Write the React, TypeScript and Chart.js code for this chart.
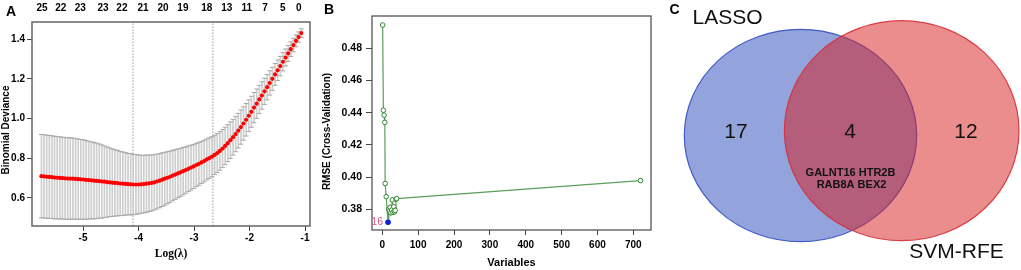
import React, { useEffect, useRef } from "react";
import { Chart, registerables } from "chart.js";

Chart.register(...registerables);

const SANS = "'Liberation Sans', Arial, Helvetica, sans-serif";
const SERIF = "'Liberation Serif', 'Times New Roman', serif";

// ---------------- Panel A: LASSO cross-validation ----------------
const logLambda = [
  -5.75, -5.703, -5.655, -5.608, -5.561, -5.514, -5.466, -5.419, -5.372, -5.324,
  -5.277, -5.23, -5.182, -5.135, -5.088, -5.041, -4.993, -4.946, -4.899, -4.851,
  -4.804, -4.757, -4.709, -4.662, -4.615, -4.568, -4.52, -4.473, -4.426, -4.378,
  -4.331, -4.284, -4.236, -4.189, -4.142, -4.095, -4.047, -4.0, -3.953, -3.905,
  -3.858, -3.811, -3.763, -3.716, -3.669, -3.622, -3.574, -3.527, -3.48, -3.432,
  -3.385, -3.338, -3.29, -3.243, -3.196, -3.149, -3.101, -3.054, -3.007, -2.959,
  -2.912, -2.865, -2.817, -2.77, -2.723, -2.676, -2.628, -2.581, -2.534, -2.486,
  -2.439, -2.392, -2.344, -2.297, -2.25, -2.203, -2.155, -2.108, -2.061, -2.013,
  -1.966, -1.919, -1.871, -1.824, -1.777, -1.73, -1.682, -1.635, -1.588, -1.54,
  -1.493, -1.446, -1.398, -1.351, -1.304, -1.257, -1.209, -1.162, -1.115, -1.067,
];
const cvMean = [
  0.71, 0.709, 0.707, 0.706, 0.705, 0.703, 0.702, 0.701, 0.7, 0.699,
  0.698, 0.698, 0.697, 0.696, 0.695, 0.694, 0.693, 0.691, 0.69, 0.689,
  0.687, 0.686, 0.685, 0.683, 0.682, 0.68, 0.679, 0.677, 0.676, 0.675,
  0.673, 0.672, 0.671, 0.67, 0.669, 0.668, 0.668, 0.668, 0.669, 0.67,
  0.672, 0.674, 0.676, 0.679, 0.683, 0.687, 0.692, 0.697, 0.702, 0.707,
  0.713, 0.718, 0.724, 0.729, 0.735, 0.741, 0.747, 0.753, 0.759, 0.766,
  0.772, 0.779, 0.786, 0.794, 0.801, 0.808, 0.817, 0.826, 0.837, 0.849,
  0.862, 0.876, 0.891, 0.906, 0.922, 0.939, 0.957, 0.975, 0.994, 1.014,
  1.034, 1.055, 1.075, 1.096, 1.116, 1.137, 1.158, 1.179, 1.2, 1.222,
  1.243, 1.264, 1.286, 1.307, 1.328, 1.349, 1.37, 1.391, 1.41, 1.43,
];
const cvSd = [
  0.21, 0.21, 0.209, 0.209, 0.208, 0.208, 0.207, 0.207, 0.206, 0.206,
  0.205, 0.205, 0.204, 0.203, 0.202, 0.201, 0.2, 0.198, 0.196, 0.194,
  0.192, 0.19, 0.187, 0.184, 0.18, 0.177, 0.173, 0.17, 0.167, 0.165,
  0.162, 0.16, 0.157, 0.155, 0.154, 0.152, 0.15, 0.148, 0.146, 0.145,
  0.144, 0.142, 0.141, 0.139, 0.138, 0.136, 0.135, 0.133, 0.131, 0.129,
  0.127, 0.125, 0.123, 0.121, 0.119, 0.117, 0.115, 0.113, 0.111, 0.109,
  0.108, 0.106, 0.105, 0.103, 0.102, 0.101, 0.099, 0.098, 0.097, 0.096,
  0.094, 0.093, 0.092, 0.09, 0.089, 0.087, 0.086, 0.084, 0.082, 0.08,
  0.078, 0.076, 0.074, 0.071, 0.069, 0.066, 0.064, 0.061, 0.058, 0.055,
  0.052, 0.049, 0.046, 0.043, 0.04, 0.037, 0.034, 0.03, 0.026, 0.022,
];
const lambdaMinLog = -4.1;
const lambda1seLog = -2.66;
const topAxisPositions = [
  -5.74, -5.4, -5.05, -4.64, -4.3, -3.92, -3.56, -3.2, -2.77, -2.41, -2.05,
  -1.72, -1.4, -1.11,
];
const topAxisLabels = [
  "25", "22", "23", "23", "22", "21", "20", "19", "18", "13", "11", "7", "5", "0",
];
const xTicksA = [-5, -4, -3, -2, -1];
const yTicksA = [0.6, 0.8, 1.0, 1.2, 1.4];
const A_X_RANGE = [-5.92, -0.91];
const A_Y_RANGE = [0.459, 1.486];

// ---------------- Panel B: SVM-RFE ----------------
const rfeVariables = [1, 3, 5, 7, 8, 11, 16, 18, 20, 22, 24, 26, 28, 30, 32, 34, 36, 38, 40, 720];
const rfeRmse = [
  0.4945, 0.4415, 0.4385, 0.434, 0.396, 0.3878, 0.3719, 0.38, 0.3788, 0.3812,
  0.3778, 0.3795, 0.3858, 0.3781, 0.3816, 0.3785, 0.3793, 0.3862, 0.3866, 0.3978,
];
const bestVariables = 16;
const bestRmse = 0.3719;
const xTicksB = [0, 100, 200, 300, 400, 500, 600, 700];
const yTicksB = [0.38, 0.4, 0.42, 0.44, 0.46, 0.48];
const B_X_RANGE = [-28.7, 749.3];
const B_Y_RANGE = [0.3671, 0.5001];

// ---------------- Panel C: Venn ----------------
const vennSetNames = ["LASSO", "SVM-RFE"];
const vennCounts = [17, 4, 12];
const sharedGenes = ["GALNT16", "HTR2B", "RAB8A", "BEX2"];

type TextItem = {
  text: string;
  x: number;
  y: number;
  font: string;
  color?: string;
  align?: CanvasTextAlign;
  rotate?: number;
};

function makeTextPlugin(id: string, getItems: (chart: any) => TextItem[]) {
  return {
    id,
    afterDraw(chart: any) {
      const ctx = chart.ctx as CanvasRenderingContext2D;
      for (const it of getItems(chart)) {
        ctx.save();
        ctx.font = it.font;
        ctx.fillStyle = it.color || "#000";
        ctx.textAlign = it.align || "center";
        ctx.textBaseline = "middle";
        ctx.translate(it.x, it.y);
        if (it.rotate) ctx.rotate(it.rotate);
        ctx.fillText(it.text, 0, 0);
        ctx.restore();
      }
    },
  };
}

function makeBoxPlugin(color: string, width: number) {
  return {
    id: "box",
    afterDatasetsDraw(chart: any) {
      const { ctx, chartArea } = chart;
      ctx.save();
      ctx.strokeStyle = color;
      ctx.lineWidth = width;
      ctx.strokeRect(
        chartArea.left,
        chartArea.top,
        chartArea.right - chartArea.left,
        chartArea.bottom - chartArea.top
      );
      ctx.restore();
    },
  };
}

function PanelA() {
  const ref = useRef<HTMLCanvasElement>(null);
  useEffect(() => {
    const tickFont = { family: SANS, size: 10, weight: "bold" as const };
    const chart = new Chart(ref.current!, {
      type: "scatter",
      data: {
        datasets: [
          {
            label: "mean",
            data: logLambda.map((x, i) => ({ x, y: cvMean[i] })),
            pointRadius: 2.1,
            pointBackgroundColor: "#ff0000",
            pointBorderWidth: 0,
            showLine: false,
          },
          {
            label: "upper",
            data: logLambda.map((x, i) => ({ x, y: cvMean[i] + cvSd[i] })),
            pointStyle: "line",
            pointRadius: 2.4,
            pointBorderColor: "#a9a9a9",
            pointBorderWidth: 1,
            showLine: false,
          },
          {
            label: "lower",
            data: logLambda.map((x, i) => ({ x, y: cvMean[i] - cvSd[i] })),
            pointStyle: "line",
            pointRadius: 2.4,
            pointBorderColor: "#a9a9a9",
            pointBorderWidth: 1,
            showLine: false,
          },
          {
            type: "bar",
            label: "bars",
            data: logLambda.map((x, i) => ({ x, y: [cvMean[i] - cvSd[i], cvMean[i] + cvSd[i]] })) as any,
            backgroundColor: "#cdcdcd",
            borderWidth: 0,
            barThickness: 1,
            grouped: false,
          } as any,
          {
            label: "lambda.min",
            data: [
              { x: lambdaMinLog, y: A_Y_RANGE[0] },
              { x: lambdaMinLog, y: A_Y_RANGE[1] },
            ],
            showLine: true,
            borderColor: "#9a9a9a",
            borderWidth: 1,
            borderDash: [1.5, 1.5],
            pointRadius: 0,
          },
          {
            label: "lambda.1se",
            data: [
              { x: lambda1seLog, y: A_Y_RANGE[0] },
              { x: lambda1seLog, y: A_Y_RANGE[1] },
            ],
            showLine: true,
            borderColor: "#9a9a9a",
            borderWidth: 1,
            borderDash: [1.5, 1.5],
            pointRadius: 0,
          },
        ],
      },
      options: {
        responsive: false,
        animation: false,
        devicePixelRatio: 1,
        layout: { padding: { left: 0, right: 20, top: 0, bottom: 0 } },
        plugins: { legend: { display: false }, tooltip: { enabled: false } },
        scales: {
          x: {
            type: "linear",
            position: "bottom",
            min: A_X_RANGE[0],
            max: A_X_RANGE[1],
            offset: false,
            afterBuildTicks: (s: any) => {
              s.ticks = xTicksA.map((v) => ({ value: v }));
            },
            ticks: {
              font: tickFont,
              color: "#000",
              padding: 1,
              maxRotation: 0,
              autoSkip: false,
              callback: (v: any) => String(v),
            },
            grid: { drawOnChartArea: false, drawTicks: true, tickLength: 5, color: "#444", offset: false },
            border: { display: false },
            title: {
              display: true,
              text: "Log(λ)",
              font: { family: SERIF, size: 11.5, weight: "bold" },
              color: "#000",
              padding: { top: 0, bottom: 9 },
            },
            afterFit: (s: any) => {
              s.height = 44;
            },
          },
          x2: {
            type: "linear",
            position: "top",
            min: A_X_RANGE[0],
            max: A_X_RANGE[1],
            offset: false,
            afterBuildTicks: (s: any) => {
              s.ticks = topAxisPositions.map((v) => ({ value: v }));
            },
            ticks: {
              font: tickFont,
              color: "#000",
              padding: 7.5,
              maxRotation: 0,
              autoSkip: false,
              callback: (_v: any, i: number) => topAxisLabels[i],
            },
            grid: { display: false, drawTicks: false },
            border: { display: false },
            afterFit: (s: any) => {
              s.height = 22;
            },
          },
          y: {
            type: "linear",
            min: A_Y_RANGE[0],
            max: A_Y_RANGE[1],
            beginAtZero: false,
            afterBuildTicks: (s: any) => {
              s.ticks = yTicksA.map((v) => ({ value: v }));
            },
            ticks: {
              font: tickFont,
              color: "#000",
              padding: 2,
              callback: (v: any) => Number(v).toFixed(1),
            },
            grid: { drawOnChartArea: false, tickLength: 5, color: "#444" },
            border: { display: false },
            afterFit: (s: any) => {
              s.width = 32;
            },
          },
        },
      } as any,
      plugins: [
        makeBoxPlugin("#666", 1.5),
        makeTextPlugin("textsA", () => [
          { text: "A", x: 11, y: 12.5, font: `bold 14px ${SANS}` },
          {
            text: "Binomial Deviance",
            x: 6.5,
            y: 130,
            font: `bold 10px ${SANS}`,
            rotate: -Math.PI / 2,
          },
        ]),
      ],
    });
    return () => chart.destroy();
  }, []);
  return (
    <canvas
      ref={ref}
      width={330}
      height={270}
      style={{ position: "absolute", left: 0, top: 0, width: 330, height: 270 }}
    />
  );
}

function PanelB() {
  const ref = useRef<HTMLCanvasElement>(null);
  useEffect(() => {
    const tickFont = { family: SANS, size: 10.5, weight: "bold" as const };
    const chart = new Chart(ref.current!, {
      type: "scatter",
      data: {
        datasets: [
          {
            label: "best",
            data: [{ x: bestVariables, y: bestRmse }],
            pointRadius: 2.7,
            pointBackgroundColor: "#1020e0",
            pointBorderColor: "#1020e0",
            pointBorderWidth: 0,
            showLine: false,
          },
          {
            label: "rmse",
            data: rfeVariables.map((x, i) => ({ x, y: rfeRmse[i] })),
            showLine: true,
            borderColor: "#5c9e5c",
            borderWidth: 1.2,
            pointRadius: 2.3,
            pointBorderColor: "#2f8a2f",
            pointBackgroundColor: "#ffffff",
            pointBorderWidth: 1,
          },
        ],
      },
      options: {
        responsive: false,
        animation: false,
        devicePixelRatio: 1,
        layout: { padding: { left: 0, right: 15, top: 16, bottom: 0 } },
        plugins: { legend: { display: false }, tooltip: { enabled: false } },
        scales: {
          x: {
            type: "linear",
            min: B_X_RANGE[0],
            max: B_X_RANGE[1],
            afterBuildTicks: (s: any) => {
              s.ticks = xTicksB.map((v) => ({ value: v }));
            },
            ticks: {
              font: { family: SANS, size: 10, weight: "bold" },
              color: "#000",
              padding: 4,
              maxRotation: 0,
              autoSkip: false,
              callback: (v: any) => String(v),
            },
            grid: { drawOnChartArea: false, tickLength: 5, color: "#444" },
            border: { display: false },
            title: {
              display: true,
              text: "Variables",
              font: { family: SANS, size: 11, weight: "bold" },
              color: "#000",
              padding: { top: 0, bottom: 0.5 },
            },
            afterFit: (s: any) => {
              s.height = 40;
            },
          },
          y: {
            type: "linear",
            min: B_Y_RANGE[0],
            max: B_Y_RANGE[1],
            afterBuildTicks: (s: any) => {
              s.ticks = yTicksB.map((v) => ({ value: v }));
            },
            ticks: {
              font: tickFont,
              color: "#000",
              padding: 4,
              callback: (v: any) => Number(v).toFixed(2),
            },
            grid: { drawOnChartArea: false, tickLength: 6, color: "#444" },
            border: { display: false },
            afterFit: (s: any) => {
              s.width = 56;
            },
          },
        },
      } as any,
      plugins: [
        makeBoxPlugin("#555", 1.3),
        makeTextPlugin("textsB", (c: any) => [
          { text: "B", x: 13, y: 10, font: `bold 14px ${SANS}` },
          {
            text: "RMSE (Cross-Validation)",
            x: 11,
            y: 131.5,
            font: `bold 10px ${SANS}`,
            rotate: -Math.PI / 2,
          },
          {
            text: String(bestVariables),
            x: c.scales.x.getPixelForValue(bestVariables) - 5,
            y: c.scales.y.getPixelForValue(bestRmse),
            font: `10.5px ${SANS}`,
            color: "#e0587c",
            align: "right",
          },
        ]),
      ],
    });
    return () => chart.destroy();
  }, []);
  return (
    <canvas
      ref={ref}
      width={350}
      height={270}
      style={{ position: "absolute", left: 316, top: 0, width: 350, height: 270 }}
    />
  );
}

// Venn geometry (layout, in panel-C units that map 1:1 onto the canvas)
const VENN_LAYOUT = [
  { cx: 132.5, cy: 135.5, rx: 116.2, ry: 106.2, fill: "rgba(30,62,182,0.48)", stroke: "rgba(60,85,195,0.95)" },
  { cx: 233.7, cy: 130.7, rx: 117.3, ry: 110, fill: "rgba(215,25,28,0.5)", stroke: "rgba(215,45,55,0.9)" },
];

function PanelC() {
  const ref = useRef<HTMLCanvasElement>(null);
  useEffect(() => {
    const ellipsePlugin = {
      id: "venn",
      beforeDatasetsDraw(chart: any) {
        const { ctx, scales } = chart;
        const sx = scales.x;
        const sy = scales.y;
        for (const e of VENN_LAYOUT) {
          const cx = sx.getPixelForValue(e.cx);
          const cy = sy.getPixelForValue(e.cy);
          const rx = Math.abs(sx.getPixelForValue(e.cx + e.rx) - cx);
          const ry = Math.abs(sy.getPixelForValue(e.cy + e.ry) - cy);
          ctx.save();
          ctx.beginPath();
          ctx.ellipse(cx, cy, rx, ry, 0, 0, Math.PI * 2);
          ctx.fillStyle = e.fill;
          ctx.fill();
          ctx.lineWidth = 1.2;
          ctx.strokeStyle = e.stroke;
          ctx.stroke();
          ctx.restore();
        }
      },
    };
    const chart = new Chart(ref.current!, {
      type: "scatter",
      data: { datasets: [] },
      options: {
        responsive: false,
        animation: false,
        devicePixelRatio: 1,
        layout: { padding: 0 },
        plugins: { legend: { display: false }, tooltip: { enabled: false } },
        scales: {
          x: { type: "linear", min: 0, max: 353, display: false },
          y: { type: "linear", min: 0, max: 270, reverse: true, display: false },
        },
      } as any,
      plugins: [
        ellipsePlugin,
        makeTextPlugin("textsC", () => [
          { text: "C", x: 6.5, y: 10, font: `bold 14px ${SANS}` },
          { text: vennSetNames[0], x: 59.5, y: 18, font: `21px ${SANS}`, color: "#111" },
          { text: vennSetNames[1], x: 288.5, y: 252, font: `21px ${SANS}`, color: "#111" },
          { text: String(vennCounts[0]), x: 68, y: 132, font: `21px ${SANS}`, color: "#111" },
          { text: String(vennCounts[1]), x: 182, y: 132, font: `21px ${SANS}`, color: "#111" },
          { text: String(vennCounts[2]), x: 298, y: 132, font: `21px ${SANS}`, color: "#111" },
          {
            text: `${sharedGenes[0]} ${sharedGenes[1]}`,
            x: 182.5,
            y: 172.7,
            font: `bold 11px ${SANS}`,
            color: "#111",
          },
          {
            text: `${sharedGenes[2]} ${sharedGenes[3]}`,
            x: 183.5,
            y: 184.5,
            font: `bold 11px ${SANS}`,
            color: "#111",
          },
        ]),
      ],
    });
    return () => chart.destroy();
  }, []);
  return (
    <canvas
      ref={ref}
      width={353}
      height={270}
      style={{ position: "absolute", left: 668, top: 0, width: 353, height: 270 }}
    />
  );
}

export default function App() {
  return (
    <div
      style={{
        position: "fixed",
        left: 0,
        top: 0,
        width: 1021,
        height: 270,
        background: "#ffffff",
        overflow: "hidden",
      }}
    >
      <PanelA />
      <PanelB />
      <PanelC />
    </div>
  );
}
